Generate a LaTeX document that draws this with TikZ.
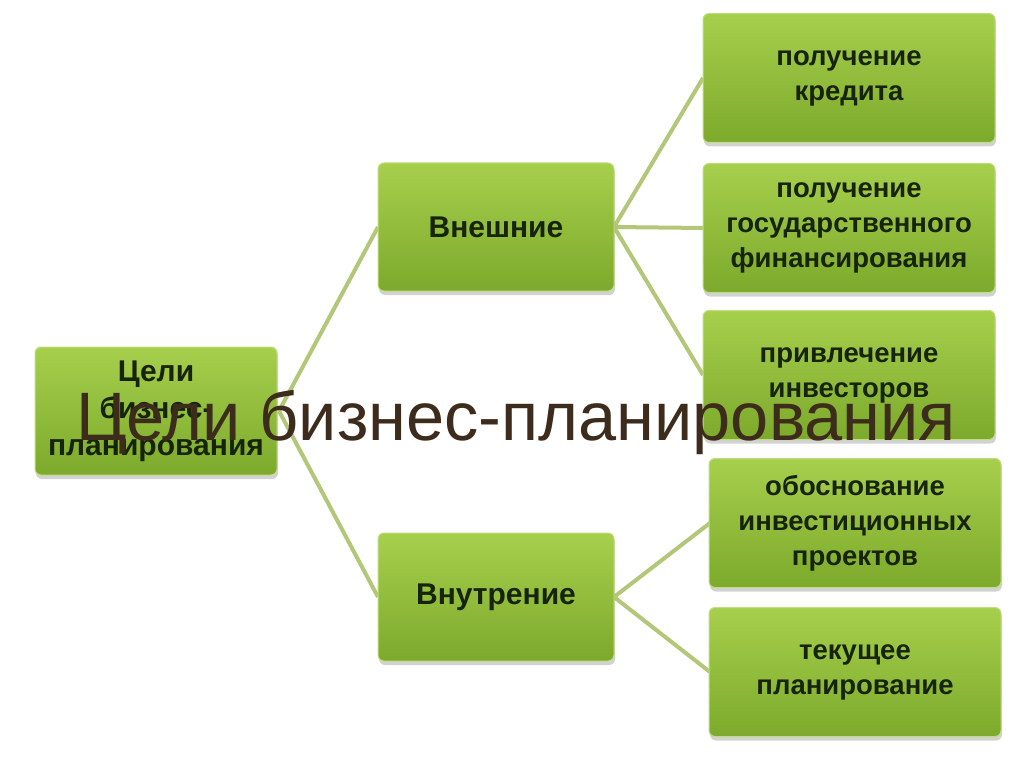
\documentclass[tikz,border=0pt]{standalone}
\usepackage{fontspec}
\setmainfont{Liberation Sans}
\usetikzlibrary{shadows}

\definecolor{boxtop}{HTML}{A6CF4C}
\definecolor{boxbot}{HTML}{7DAA2C}
\definecolor{linkgreen}{HTML}{B3C779}
\definecolor{titlebrown}{HTML}{3D2B1C}
\definecolor{boxtext}{HTML}{17240B}

\tikzset{
  goal_box/.style={rounded corners=6pt,top color=boxtop,bottom color=boxbot,
    draw=boxtop!70!white,line width=1pt,
    drop shadow={shadow xshift=1pt,shadow yshift=-4pt,opacity=.35},
    align=center,text=boxtext,inner sep=0pt,
    font=\bfseries\fontsize{27.5}{35}\selectfont},
  root_box/.style={goal_box,minimum width=242pt,minimum height=128pt,
    font=\bfseries\fontsize{30}{37}\selectfont},
  mid_box/.style={goal_box,minimum width=236pt,minimum height=128pt,
    font=\bfseries\fontsize{30}{37}\selectfont},
  leaf_box/.style={goal_box,minimum width=292pt,minimum height=129pt},
}

\begin{document}
\begin{tikzpicture}[
  x=1pt,y=-1pt,
  link/.style={draw=linkgreen,line width=4pt},
  ]
  \useasboundingbox[fill=white] (0,0) rectangle (1024,767);

  % links first, boxes on top
  \coordinate (rootE) at (279,411);
  \coordinate (extW) at (378,227);
  \coordinate (intW) at (378,597);
  \coordinate (extE) at (614,227);
  \coordinate (intE) at (614,597);
  \foreach \T in {extW,intW}{
    \draw[link] (rootE) -- (\T);
  }
  \foreach \Y in {78,228,375}{
    \draw[link] (extE) -- (703,\Y);
  }
  \foreach \Y in {523,672}{
    \draw[link] (intE) -- (710,\Y);
  }

  \node[root_box] (goals) at (156,411) {Цели\\бизнес-\\планирования};

  \node[mid_box] (ext) at (496,227) {Внешние};
  \node[mid_box] (int) at (496,597) {Внутрение};

  \node[leaf_box] (credit) at (849,78) {получение\\кредита};
  \node[leaf_box] (state) at (849,228) {получение\\государственного\\финансирования};
  \node[leaf_box] (invest) at (849,375) {привлечение\\инвесторов};
  \node[leaf_box] (projects) at (855,523) {обоснование\\инвестиционных\\проектов};
  \node[leaf_box] (current) at (855,672) {текущее\\планирование};

  \node[anchor=base,text=titlebrown,font=\fontsize{68.5}{72}\selectfont] (title)
    at (516,440) {Цели бизнес-планирования};
\end{tikzpicture}
\end{document}
